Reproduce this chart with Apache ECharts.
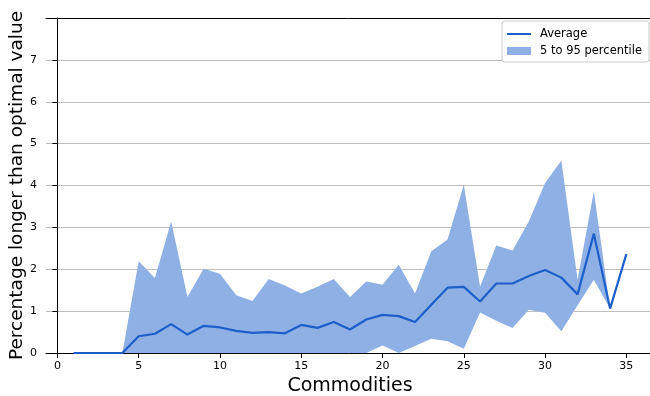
<!DOCTYPE html>
<html>
<head>
<meta charset="utf-8">
<script src="https://cdn.jsdelivr.net/npm/echarts@6/dist/echarts.min.js"></script>
<style>
  html, body { margin: 0; padding: 0; background: #fff; }
  #chart { width: 650px; height: 396px; }
</style>
</head>
<body>
<div id="chart"></div>
<script>
// Number of commodities in the instance (x positions)
const commodities = [1, 2, 3, 4, 5, 6, 7, 8, 9, 10, 11, 12, 13, 14, 15, 16, 17, 18, 19, 20,
                     21, 22, 23, 24, 25, 26, 27, 28, 29, 30, 31, 32, 33, 34, 35];

// Average percentage above the optimal value
const average = [0, 0, 0, 0, 0.40, 0.46, 0.69, 0.44, 0.65, 0.61, 0.53, 0.48, 0.50, 0.47, 0.67,
                 0.60, 0.74, 0.56, 0.80, 0.91, 0.88, 0.74, 1.15, 1.56, 1.58, 1.23, 1.66, 1.66,
                 1.84, 1.98, 1.80, 1.40, 2.85, 1.06, 2.36];

// 5th and 95th percentiles
const p5 = [0, 0, 0, 0, 0, 0, 0, 0, 0, 0, 0, 0, 0, 0, 0, 0, 0, 0, 0, 0.18, 0, 0.17, 0.34, 0.28,
            0.10, 0.97, 0.77, 0.60, 1.03, 0.96, 0.52, 1.14, 1.75, 1.06, 2.36];
const p95 = [0, 0, 0, 0, 2.19, 1.79, 3.14, 1.34, 2.01, 1.89, 1.38, 1.24, 1.77, 1.61, 1.42, 1.58,
             1.77, 1.34, 1.71, 1.63, 2.11, 1.42, 2.43, 2.71, 4.02, 1.59, 2.57, 2.45, 3.14, 4.06,
             4.60, 1.75, 3.86, 1.06, 2.36];

// Tick labels
const xTicks = [0, 5, 10, 15, 20, 25, 30, 35];
const yTicks = [0, 1, 2, 3, 4, 5, 6, 7];

const LINE = '#1d5fca';
const FILL = '#8eb0e4';
const FONT = 'DejaVu Sans';

const bandData = commodities.map((c, i) => [c, p5[i], p95[i]]);
const avgData = commodities.map((c, i) => [c, average[i]]);

// Filled region between the lower and upper percentile curves, drawn as one polygon
function renderBand(params, api) {
  if (params.dataIndexInside !== 0) return null;
  const n = params.dataInsideLength;
  const upper = [];
  const lower = [];
  for (let i = 0; i < n; i++) {
    const x = api.value(0, i);
    lower.push(api.coord([x, api.value(1, i)]));
    upper.push(api.coord([x, api.value(2, i)]));
  }
  const points = upper.concat(lower.reverse());
  return {
    type: 'polygon',
    shape: { points: points },
    style: { fill: FILL, stroke: null },
    silent: true
  };
}

const chart = echarts.init(document.getElementById('chart'), null, { renderer: 'canvas' });

chart.setOption({
  animation: false,
  backgroundColor: '#fff',
  grid: { left: 46, top: 18, right: -4, bottom: 43, containLabel: false, outerBoundsMode: 'none' },
  legend: {
    orient: 'vertical',
    left: 502,
    top: 21,
    padding: [7, 7, 5, 5],
    itemGap: 5,
    itemWidth: 24,
    itemHeight: 8,
    backgroundColor: '#fff',
    borderColor: '#cccccc',
    borderWidth: 1,
    borderRadius: 3,
    textStyle: { fontFamily: FONT, fontSize: 11.5, color: '#000', padding: [0, 0, 0, 4] },
    data: [
      { name: 'Average', icon: 'path://M0,0H24V2H0Z', itemStyle: { color: LINE } },
      { name: '5 to 95 percentile', icon: 'rect', itemStyle: { color: FILL } }
    ]
  },
  xAxis: [
    {
      type: 'value',
      min: -0.7,
      max: 36.7,
      name: 'Commodities',
      nameLocation: 'middle',
      nameGap: 24,
      nameMoveOverlap: false,
      nameTextStyle: { fontFamily: FONT, fontSize: 19, color: '#000' },
      axisLine: { show: true, onZero: false, lineStyle: { color: '#000', width: 1 } },
      axisTick: { show: true, length: 5, customValues: xTicks, lineStyle: { color: '#000' } },
      axisLabel: { customValues: xTicks, margin: 8, fontFamily: FONT, fontSize: 11, color: '#000' },
      splitLine: { show: false }
    },
    {
      // top frame line
      type: 'value',
      position: 'top',
      min: -0.7,
      max: 36.7,
      z: 10,
      axisLine: { show: true, onZero: false, lineStyle: { color: '#000', width: 1 } },
      axisTick: { show: false },
      axisLabel: { show: false },
      splitLine: { show: false }
    }
  ],
  yAxis: {
    type: 'value',
    min: 0,
    max: 8,
    interval: 1,
    name: 'Percentage longer than optimal value',
    nameLocation: 'middle',
    nameGap: 19,
    nameMoveOverlap: false,
    nameTextStyle: { fontFamily: FONT, fontSize: 18.5, color: '#000' },
    axisLine: { show: true, lineStyle: { color: '#000', width: 1 } },
    axisTick: { show: true, length: 5, customValues: yTicks, lineStyle: { color: '#000' } },
    axisLabel: { customValues: yTicks, margin: 9, fontFamily: FONT, fontSize: 11, color: '#000' },
    splitLine: { show: true, lineStyle: { color: '#bdbdbd', width: 1.2 } }
  },
  series: [
    {
      name: '5 to 95 percentile',
      type: 'custom',
      renderItem: renderBand,
      data: bandData,
      encode: { x: 0, y: [1, 2] },
      itemStyle: { color: FILL },
      clip: true,
      z: 2
    },
    {
      name: 'Average',
      type: 'line',
      data: avgData,
      symbol: 'none',
      itemStyle: { color: LINE },
      lineStyle: { color: LINE, width: 2.2 },
      z: 5
    }
  ]
});
</script>
</body>
</html>
